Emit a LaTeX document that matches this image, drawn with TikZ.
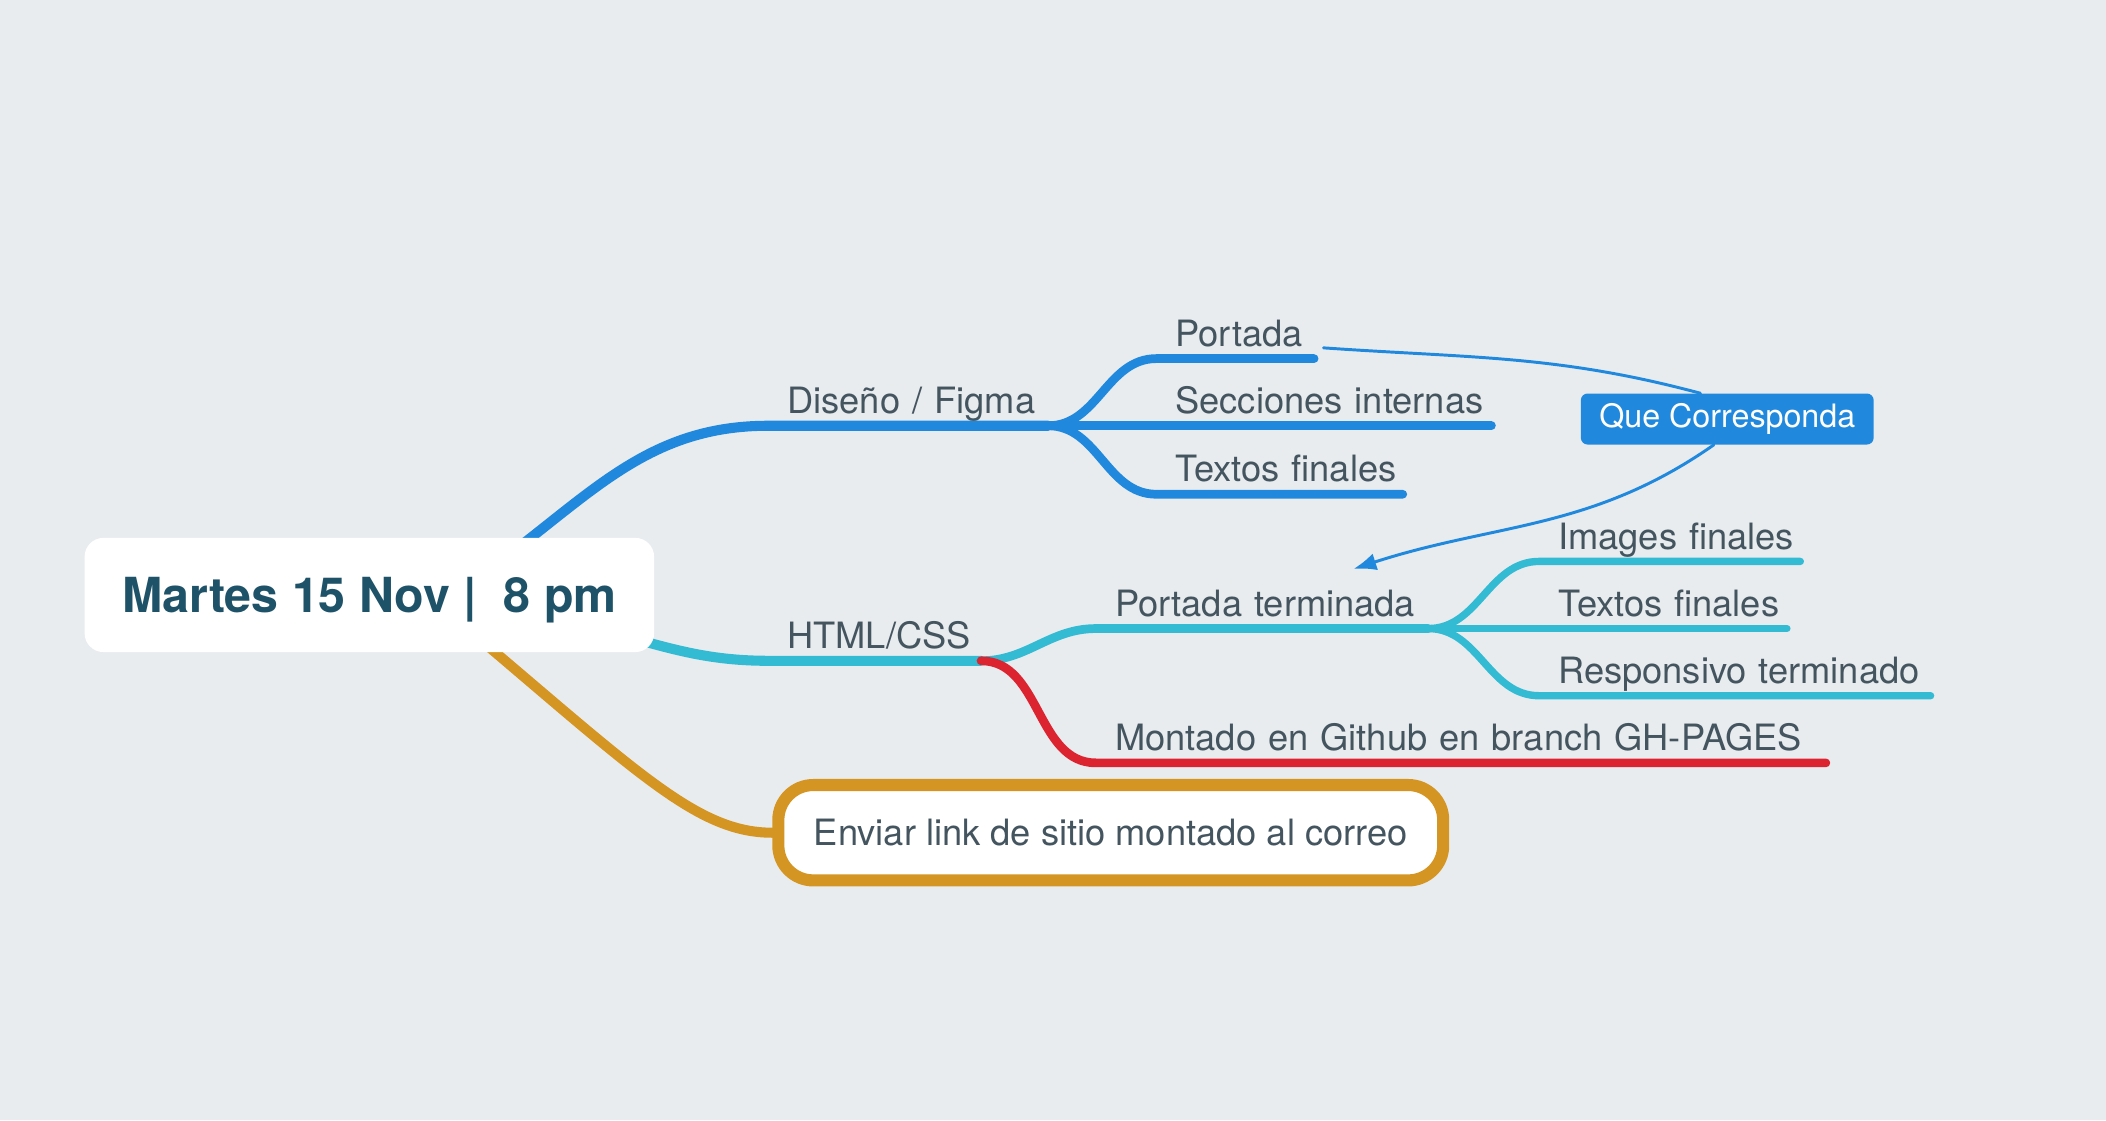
\documentclass[tikz,border=0pt]{standalone}
\usepackage{fontspec}
\usepackage{tikz}
\usetikzlibrary{positioning,backgrounds,arrows.meta}
\newfontfamily\heros{TeX Gyre Heros}
\newcommand{\topicfont}{\heros\fontsize{27}{32}\selectfont}
\newcommand{\centralfont}{\heros\bfseries\fontsize{36}{42}\selectfont}
\newcommand{\relfont}{\heros\fontsize{24}{28}\selectfont}
\definecolor{bgcol}{RGB}{232,236,239}
\definecolor{txtcol}{RGB}{68,85,96}
\definecolor{ctrcol}{RGB}{30,82,104}
\definecolor{bluecol}{RGB}{33,137,221}
\definecolor{tealcol}{RGB}{51,187,211}
\definecolor{redcol}{RGB}{220,36,48}
\definecolor{goldcol}{RGB}{213,149,34}
\tikzset{
central/.style={rectangle, rounded corners=14pt, fill=white, font=\centralfont, text=ctrcol, minimum width=424pt, minimum height=85pt, inner sep=0pt, text depth=0pt},
topic/.style={anchor=south west, font=\topicfont, text=txtcol, inner xsep=14pt, inner ysep=9pt, text height=20pt, text depth=0pt, align=left,
  execute at begin node=\hbox\bgroup, execute at end node=\egroup},
endtopic/.style={rectangle, rounded corners=26pt, draw=goldcol, line width=9pt, fill=white, font=\topicfont, text=txtcol, minimum width=495pt, minimum height=71pt},
relation/.style={rectangle, rounded corners=5pt, fill=bluecol, text=white, font=\relfont, minimum width=218pt, minimum height=38pt, inner sep=0pt},
mainbranch/.style={line width=7.5pt, line cap=round, line join=round},
subbranch/.style={line width=6.5pt, line cap=round, line join=round},
leafbranch/.style={line width=5.5pt, line cap=round, line join=round},
connect/.style={draw=bluecol, line width=2.2pt, line cap=round}
}

\begin{document}
\begin{tikzpicture}[x=1pt,y=1pt]
        \useasboundingbox (0,0) rectangle (1568,834);
        \node[central] (centre) at (275,391) {Martes 15 Nov~|~~8 pm};

        \node[topic, text width=180pt] (design) at (572,517) {Diseño / Figma};
        \node[topic, text width=89pt] (portada) at (861,567) {Portada};
        \node[topic, text width=221pt] (secciones) at (861,517) {Secciones internas};
        \node[topic, text width=155pt] (textosd) at (861,466) {Textos finales};

        \node[topic, text width=130pt] (html) at (572,342) {HTML/CSS};
        \node[topic, text width=219pt] (portadaterm) at (816,366) {Portada terminada};
        \node[topic, text width=166pt] (images) at (1146,416) {Images finales};
        \node[topic, text width=156pt] (textosh) at (1146,366) {Textos finales};
        \node[topic, text width=263pt] (responsivo) at (1146,316) {Responsivo terminado};
        \node[topic, text width=515pt] (montado) at (816,266) {Montado en Github en branch GH-PAGES};

        \node[endtopic] (enviar) at (827,214) {Enviar link de sitio montado al correo};
        \node[relation] (qc) at (1286,522) {Que Corresponda};

        \draw[connect] ([shift={(7,8)}]portada.south east) to[out=-4,in=165] ([xshift=-20pt]qc.north);
        \draw[connect,-{Latex[length=17pt,width=13pt]}] ([xshift=-10pt]qc.south) to[out=215,in=18] ([shift={(68,6)}]portadaterm.north);

        \begin{pgfonlayer}{background}
        \fill[bgcol] (0,0) rectangle (1568,834);
        \draw[mainbranch,bluecol] ([shift={(100,27)}]centre.center) to[out=37,in=180] (design.south west) -- (design.south east);
        \draw[mainbranch,tealcol] ([shift={(165,-24)}]centre.center) to[out=-14,in=180] (html.south west) -- (html.south east);
        \draw[mainbranch,goldcol] ([shift={(55,-10)}]centre.center) to[out=-40,in=180,out looseness=1.6,in looseness=0.5] (enviar.west);

        \draw[subbranch,bluecol] (design.south east) to[out=0,in=180] (portada.south west) -- (portada.south east);
        \draw[subbranch,bluecol] (design.south east) -- (secciones.south west) -- (secciones.south east);
        \draw[subbranch,bluecol] (design.south east) to[out=0,in=180] (textosd.south west) -- (textosd.south east);

        \draw[subbranch,tealcol] (html.south east) to[out=0,in=180] (portadaterm.south west) -- (portadaterm.south east);
        \draw[subbranch,redcol] (html.south east) to[out=0,in=180] (montado.south west) -- (montado.south east);
        \draw[leafbranch,tealcol] (portadaterm.south east) to[out=0,in=180] (images.south west) -- (images.south east);
        \draw[leafbranch,tealcol] (portadaterm.south east) -- (textosh.south west) -- (textosh.south east);
        \draw[leafbranch,tealcol] (portadaterm.south east) to[out=0,in=180] (responsivo.south west) -- (responsivo.south east);
        \end{pgfonlayer}
\end{tikzpicture}
\end{document}
